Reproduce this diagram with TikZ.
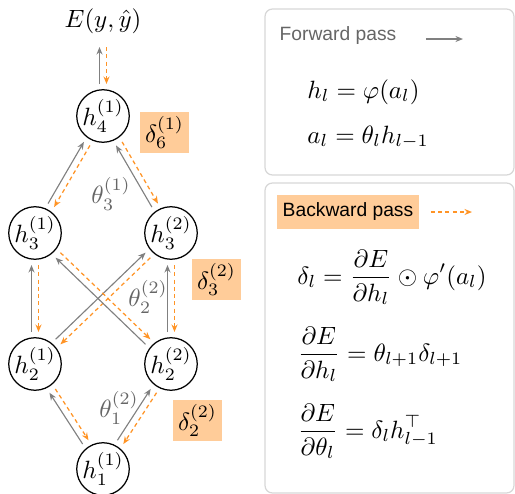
\documentclass[tikz,border=0pt]{standalone}
\usepackage{amsmath}
\usepackage{amssymb}
\usepackage{fontspec}
\setsansfont{Liberation Sans}
\usetikzlibrary{arrows.meta,positioning,calc}
\definecolor{passorange}{RGB}{255,148,38}
\definecolor{deltafill}{RGB}{255,204,153}
\definecolor{fwdgray}{RGB}{128,128,128}
\definecolor{panelgray}{RGB}{215,215,215}

\begin{document}
\begin{tikzpicture}[
  x=0.4pt, y=-0.4pt,
  neuron/.style={draw, circle, line width=0.5pt, minimum size=20pt, inner sep=0pt},
  delta/.style={fill=deltafill, minimum width=19.6pt, minimum height=16.4pt, inner sep=0pt},
  weight/.style={text=black!60},
  panel/.style={draw=panelgray, line width=0.5pt, rounded corners=3pt},
  legend/.style={font=\sffamily\fontsize{7.7}{9}\selectfont},
  eq/.style={anchor=base west, inner sep=0pt},
  fwd/.style={draw=fwdgray, line width=0.45pt, -{Stealth[length=3pt, width=2.4pt]}},
  bwd/.style={draw=passorange, line width=0.5pt, dash pattern=on 1.6pt off 1.3pt, -{Stealth[length=3pt, width=2.4pt]}}
]
\useasboundingbox (0,0) rectangle (515,494);
\clip (0,0) rectangle (515,494);

% network
\node (loss) at (103,21) {$E(y,\hat{y})$};
\node[neuron] (h41) at (103,116) {$h_4^{(1)}$};
\node[neuron] (h31) at (35,233) {$h_3^{(1)}$};
\node[neuron] (h32) at (171,233) {$h_3^{(2)}$};
\node[neuron] (h21) at (35,364) {$h_2^{(1)}$};
\node[neuron] (h22) at (171,364) {$h_2^{(2)}$};
\node[neuron] (h11) at (103,469) {$h_1^{(1)}$};

\node[delta] (d61) at (164.5,132.5) {$\delta_6^{(1)}$};
\node[delta] (d32) at (216.5,279.5) {$\delta_3^{(2)}$};
\node[delta] (d22) at (197.5,420.5) {$\delta_2^{(2)}$};

\node[weight] (t31) at (111,194) {$\theta_3^{(1)}$};
\node[weight] (t22) at (148,297) {$\theta_2^{(2)}$};
\node[weight] (t12) at (119,408) {$\theta_1^{(2)}$};

% forward (solid) and backward (dashed) side by side
\foreach \a/\b/\s in {h11/h21/12.8pt, h11/h22/12.8pt, h21/h31/12.8pt, h21/h32/12.8pt,
                      h22/h31/12.8pt, h22/h32/12.8pt, h31/h41/12.8pt, h32/h41/12.8pt,
                      h41/loss/10.4pt} {
  \draw[fwd, shorten <=12.8pt, shorten >=\s] ($(\a)!1.4pt!90:(\b)$) -- ($(\b)!1.4pt!-90:(\a)$);
  \draw[bwd, shorten <=\s, shorten >=12.8pt] ($(\b)!1.4pt!90:(\a)$) -- ($(\a)!1.4pt!-90:(\b)$);
}

% legend panels
\draw[panel] (265,9) rectangle (514,175);
\draw[panel] (265,183) rectangle (514,493);

\node[legend, text=black!60] (fwdlabel) at (338,36) {Forward pass};
\coordinate (fwdtail) at (426,39);
\coordinate (fwdtip) at (463,39);
\draw[fwd] (fwdtail) -- (fwdtip);

\node[eq] (fwdeq1) at (307,98) {$h_l = \varphi(a_l)$};
\node[eq] (fwdeq2) at (307,143) {$a_l = \theta_l h_{l-1}$};

\node[legend, fill=deltafill, minimum width=56.8pt, minimum height=13.6pt, inner sep=0pt] (bwdlabel) at (348,212) {Backward pass};
\coordinate (bwdtail) at (431,212);
\coordinate (bwdtip) at (472,212);
\draw[bwd] (bwdtail) -- (bwdtip);

\node[eq] (bwdeq1) at (297,284) {$\displaystyle \delta_l = \frac{\partial E}{\partial h_l} \odot \varphi'(a_l)$};
\node[eq] (bwdeq2) at (297,361) {$\displaystyle \frac{\partial E}{\partial h_l} = \theta_{l+1}\delta_{l+1}$};
\node[eq] (bwdeq3) at (297,438) {$\displaystyle \frac{\partial E}{\partial \theta_l} = \delta_l h_{l-1}^{\top}$};
\end{tikzpicture}
\end{document}
